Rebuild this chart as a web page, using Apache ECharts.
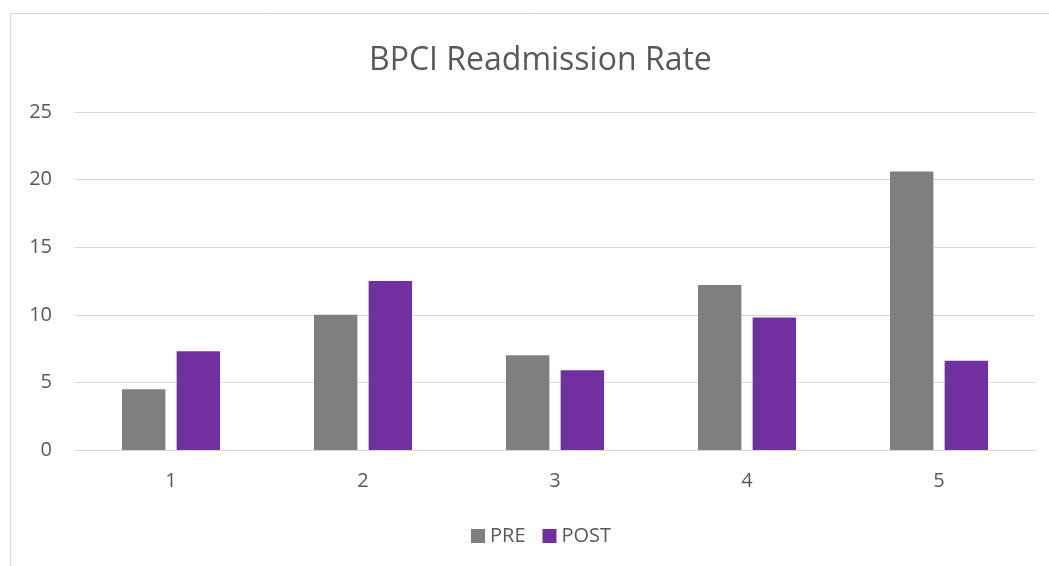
<!DOCTYPE html>
<html>
<head>
<meta charset="utf-8">
<script src="https://cdn.jsdelivr.net/npm/echarts@6/dist/echarts.min.js"></script>
<style>
html,body{margin:0;padding:0;background:#fff;}
#chart{width:1049px;height:566px;}
</style>
</head>
<body>
<div id="chart"></div>
<script>
var categories = ['1', '2', '3', '4', '5'];
var preValues = [4.5, 10.0, 7.0, 12.2, 20.6];
var postValues = [7.3, 12.5, 5.9, 9.8, 6.6];
var seriesNames = ['PRE', 'POST'];
var titleText = 'BPCI Readmission Rate';

var chart = echarts.init(document.getElementById('chart'), null, {renderer: 'canvas'});
var font = '"Open Sans", "Noto Sans", sans-serif';
chart.setOption({
  animation: false,
  backgroundColor: '#ffffff',
  textStyle: {fontFamily: font},
  graphic: [{
    type: 'rect',
    shape: {x: 10.5, y: 13.5, width: 1200, height: 700},
    style: {fill: 'none', stroke: '#d9d9d9', lineWidth: 1},
    silent: true, z: -1
  }],
  title: {
    text: titleText,
    left: 364,
    top: 40,
    textStyle: {fontFamily: font, fontSize: 32, fontWeight: 'normal', color: '#595959'}
  },
  legend: {
    data: seriesNames,
    left: 466,
    top: 521,
    icon: 'rect',
    itemWidth: 14,
    itemHeight: 14,
    itemGap: 17,
    textStyle: {fontFamily: font, fontSize: 20, color: '#595959'}
  },
  grid: {left: 75, right: 14, top: 112, bottom: 116, containLabel: false},
  xAxis: {
    type: 'category',
    data: categories,
    axisLine: {show: true, lineStyle: {color: '#d9d9d9', width: 1}},
    axisTick: {show: false},
    axisLabel: {color: '#595959', fontSize: 20, margin: 21, fontFamily: font}
  },
  yAxis: {
    type: 'value',
    min: 0,
    max: 25,
    interval: 5,
    axisLine: {show: false},
    axisTick: {show: false},
    splitLine: {lineStyle: {color: '#d9d9d9', width: 1}},
    axisLabel: {color: '#595959', fontSize: 20, margin: 23, fontFamily: font}
  },
  series: [
    {name: seriesNames[0], type: 'bar', data: preValues, barWidth: '22.6%', barGap: '26%',
     itemStyle: {color: '#7f7f7f'}},
    {name: seriesNames[1], type: 'bar', data: postValues, barWidth: '22.6%',
     itemStyle: {color: '#7030a0'}}
  ]
});
</script>
</body>
</html>
